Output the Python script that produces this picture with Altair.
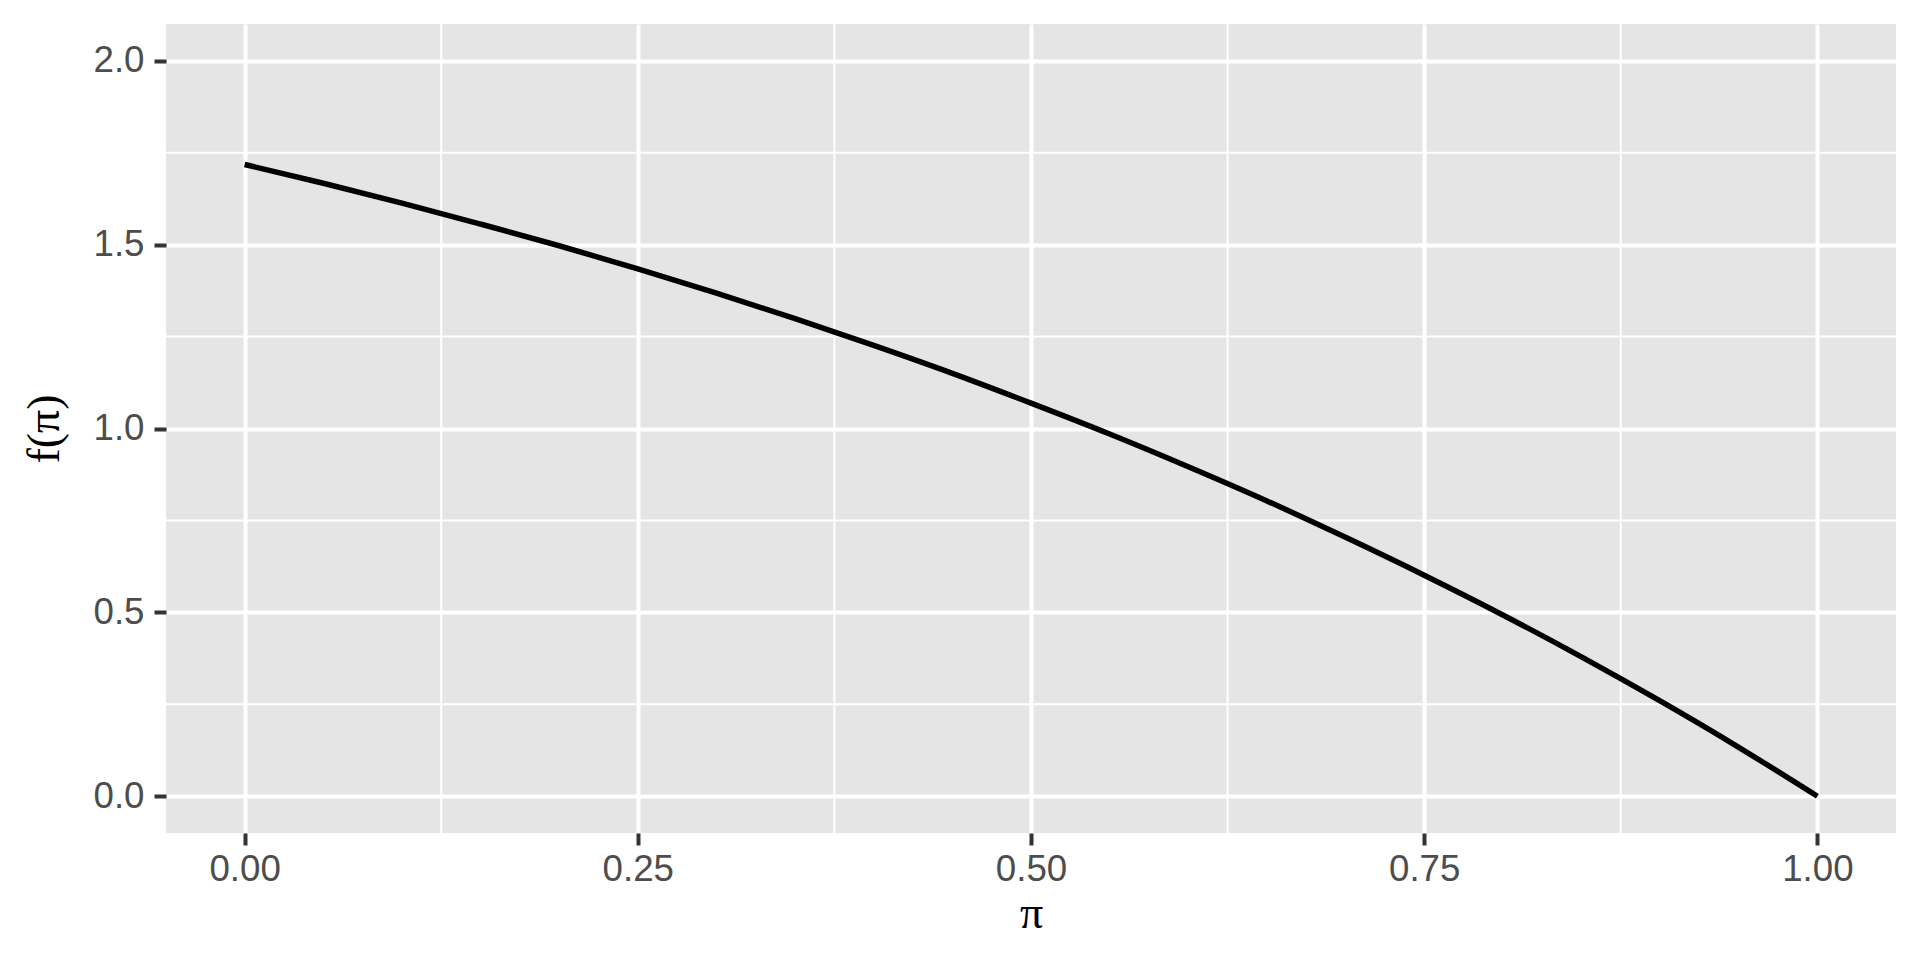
import altair as alt
import pandas as pd

# values
pi_vals = [0.00, 0.05, 0.10, 0.15, 0.20, 0.25, 0.30, 0.35, 0.40, 0.45, 0.50,
           0.55, 0.60, 0.65, 0.70, 0.75, 0.80, 0.85, 0.90, 0.95, 1.00]
f_vals = [1.718, 1.667, 1.613, 1.556, 1.497, 1.434, 1.368, 1.299, 1.226, 1.150, 1.069,
          0.985, 0.896, 0.803, 0.704, 0.601, 0.493, 0.379, 0.259, 0.133, 0.000]

x_ticks = [0.0, 0.25, 0.5, 0.75, 1.0]
y_ticks = [0.0, 0.5, 1.0, 1.5, 2.0]
x_minor = [0.125, 0.375, 0.625, 0.875]
y_minor = [0.25, 0.75, 1.25, 1.75]

df = pd.DataFrame({"pi": pi_vals, "f": f_vals})
dfx = pd.DataFrame({"x": x_minor})
dfy = pd.DataFrame({"y": y_minor})

xscale = alt.Scale(domain=[-0.05, 1.05], nice=False, zero=False)
yscale = alt.Scale(domain=[-0.1, 2.1], nice=False, zero=False)

minor_x = alt.Chart(dfx).mark_rule(color="white", strokeWidth=2).encode(
    x=alt.X("x:Q", scale=xscale)
)
minor_y = alt.Chart(dfy).mark_rule(color="white", strokeWidth=2).encode(
    y=alt.Y("y:Q", scale=yscale)
)

line = alt.Chart(df).mark_line(color="black", strokeWidth=5.5, interpolate="monotone").encode(
    x=alt.X("pi:Q", scale=xscale, title="π",
            axis=alt.Axis(values=x_ticks, format=".2f", labelFontSize=36.7,
                          labelColor="#4D4D4D", labelFont="Liberation Sans",
                          tickColor="#333333", tickWidth=4, tickSize=12,
                          labelPadding=6, domain=False,
                          grid=True, gridColor="white", gridWidth=4,
                          titleFont="Liberation Serif", titleFontSize=46,
                          titleFontWeight="normal", titleColor="black",
                          titlePadding=4)),
    y=alt.Y("f:Q", scale=yscale, title="f(π)",
            axis=alt.Axis(values=y_ticks, format=".1f", labelFontSize=36.7,
                          labelColor="#4D4D4D", labelFont="Liberation Sans",
                          tickColor="#333333", tickWidth=4, tickSize=12,
                          labelPadding=10, domain=False,
                          grid=True, gridColor="white", gridWidth=4,
                          titleFont="Liberation Serif", titleFontSize=46,
                          titleFontWeight="normal", titleColor="black",
                          titlePadding=24)),
)

chart = alt.layer(minor_x, minor_y, line).properties(
    width=1730, height=809,
    autosize=alt.AutoSizeParams(type="none"),
    padding={"left": 158, "top": 16, "right": 10, "bottom": 110},
    background="white",
).configure_view(fill="#E5E5E5", stroke=None)

chart.save("out.html", embed_options={"renderer": "svg", "actions": False})
